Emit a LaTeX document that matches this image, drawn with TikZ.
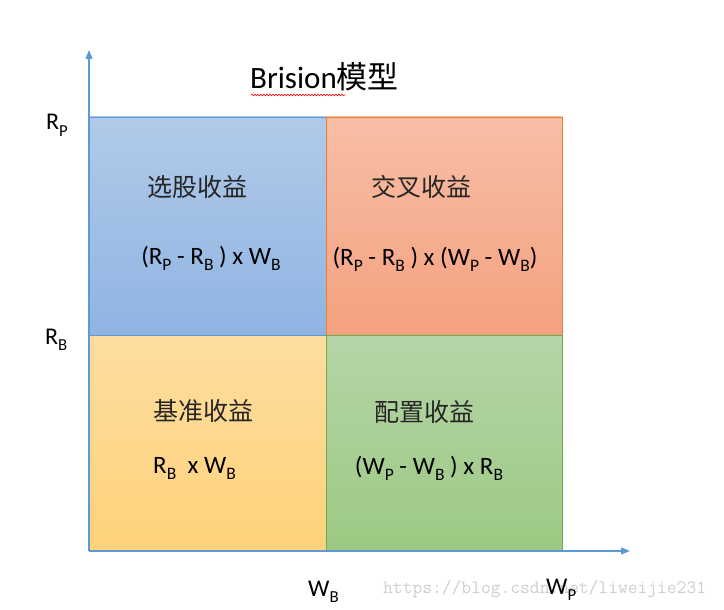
\documentclass[tikz,border=0pt]{standalone}
\usepackage{fontspec}
\setmainfont{Carlito}
\newfontfamily\cjk{Noto Sans CJK SC}
\usetikzlibrary{arrows.meta,decorations.pathmorphing}
\definecolor{axisblue}{HTML}{5B9BD5}
\definecolor{bluetop}{HTML}{B1CAE9}
\definecolor{bluebot}{HTML}{8FB4E2}
\definecolor{orgtop}{HTML}{F7BEA6}
\definecolor{orgbot}{HTML}{F5A17F}
\definecolor{orgline}{HTML}{ED7D31}
\definecolor{yeltop}{HTML}{FEDD9F}
\definecolor{yelbot}{HTML}{FED27A}
\definecolor{yelline}{HTML}{FFC000}
\definecolor{grntop}{HTML}{B5D5A7}
\definecolor{grnbot}{HTML}{9DC983}
\definecolor{grnline}{HTML}{70AD47}
\definecolor{wmark}{HTML}{CFCFCF}
\newcommand\sbt[1]{\raisebox{-0.26em}{\scalebox{0.7}{#1}}}
\tikzset{
  quad/.style={line width=0.8pt},
  axis/.style={draw=axisblue, line width=1.6pt, -{Triangle[length=9pt,width=7pt]}},
  cjklabel/.style={font=\cjk\fontsize{25}{29}\selectfont, text=black!85, inner sep=0pt},
  formula/.style={font=\fontsize{25}{29}\selectfont, inner sep=0pt, anchor=base},
  axlabel/.style={font=\fontsize{24}{28}\selectfont, inner sep=0pt, anchor=base west},
}
\begin{document}
\begin{tikzpicture}[x=1pt,y=-1pt]
\useasboundingbox[fill=white] (0,0) rectangle (724,610);
\coordinate (O) at (89,551);
\coordinate (Ytop) at (89,50);
\coordinate (Xend) at (630,551);
% quadrants
\shade[top color=bluetop, bottom color=bluebot] (89,117) rectangle (326,335);
\draw[quad, axisblue] (89,117) rectangle (326,335);
\shade[top color=orgtop, bottom color=orgbot] (326,117) rectangle (562,335);
\draw[quad, orgline] (326,117) rectangle (562,335);
\shade[top color=yeltop, bottom color=yelbot] (89,335) rectangle (326,551);
\draw[quad, yelline] (89,335) rectangle (326,551);
\shade[top color=grntop, bottom color=grnbot] (326,335) rectangle (562,551);
\draw[quad, grnline] (326,335) rectangle (562,551);
\draw[quad, axisblue] (89,335) -- (326,335);
% axes
\draw[axis] (O) -- (Ytop);
\draw[axis] (O) -- (Xend);
% title
\node[font=\fontsize{31}{35}\selectfont, inner sep=0pt, anchor=base west] (title) at (250,89) {Brision{\cjk 模型}};
\draw[red, line width=0.6pt, decorate, decoration={snake, amplitude=0.8pt, segment length=3pt}] (251,95) -- (345,95);
% quadrant texts
\node[cjklabel] (q1) at (197,187) {选股收益};
\node[formula] (f1) at (211,264) {(R\sbt{P} - R\sbt{B} ) x W\sbt{B}};
\node[cjklabel] (q2) at (421,187) {交叉收益};
\node[formula] (f2) at (435,265) {(R\sbt{P} - R\sbt{B} ) x (W\sbt{P} - W\sbt{B})};
\node[cjklabel] (q3) at (203,411) {基准收益};
\node[formula, anchor=base west] (f3) at (153,473) {R\sbt{B}\ \ x W\sbt{B}};
\node[cjklabel] (q4) at (424,412) {配置收益};
\node[formula] (f4) at (429,474) {(W\sbt{P} - W\sbt{B} ) x R\sbt{B}};
% watermark
\node[font=\ttfamily\fontsize{19}{22}\selectfont, text=wmark, inner sep=0pt, anchor=base west] (wm) at (383,593) {https://blog.csdn.net/liweijie231};
% axis labels
\node[axlabel] (rp) at (46,130) {R\sbt{P}};
\node[axlabel] (rb) at (45,344) {R\sbt{B}};
\node[axlabel] (wb) at (308,596) {W\sbt{B}};
\node[axlabel] (wp) at (546,594) {W\sbt{P}};
\end{tikzpicture}
\end{document}
